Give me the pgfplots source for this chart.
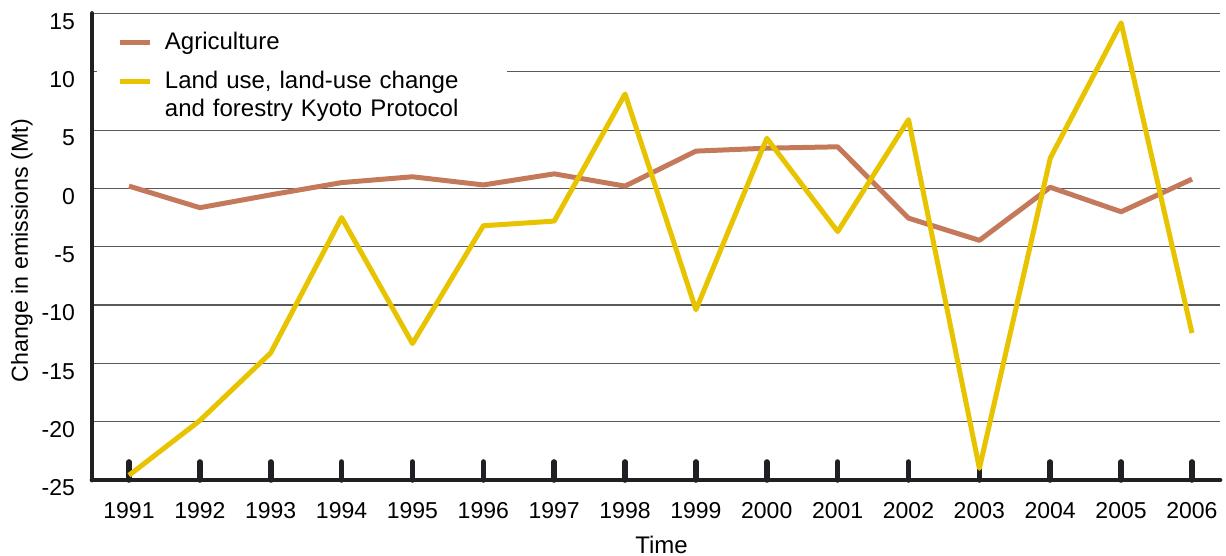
\documentclass[border=0pt]{standalone}
\usepackage{fontspec}
\setmainfont{Liberation Sans}
\usepackage{pgfplots}
\pgfplotsset{compat=1.18}

\definecolor{agri}{RGB}{196,122,90}
\definecolor{luc}{RGB}{232,196,0}
\definecolor{axblk}{RGB}{32,32,36}

\begin{document}
\begin{tikzpicture}
% 1px of the reference = 0.5pt
\useasboundingbox (-46pt,-38pt) rectangle (567pt,240pt);
\begin{axis}[
   scale only axis,
   width=564pt, height=233.25pt,
   xmin=1990.478, xmax=2006.395,
   ymin=-25, ymax=15,
   axis x line*=bottom,
   axis y line*=left,
   axis line style={line width=2.4pt, color=axblk, line cap=round, -},
   xtick={1991,...,2006},
   ytick={-25,-20,...,15},
   tick align=inside,
   major tick length=9pt,
   xtick style={line width=2.8pt, color=axblk, line cap=round},
   ytick style={draw=none},
   ymajorgrids,
   major grid style={line width=0.6pt, color=black!65},
   /pgf/number format/assume math mode=true,
   /pgf/number format/1000 sep={},
   xticklabel style={font=\fontsize{11.5}{13}\selectfont, yshift=-7.5pt},
   yticklabel style={font=\fontsize{11.5}{13}\selectfont, xshift=-5pt, yshift=-4pt},
   legend image code/.code={%
      \path (-7.5pt,0pt) (19pt,0pt);
      \draw[#1] (0pt,0pt) -- (15pt,0pt);},
   legend style={
      at={(axis description cs:0.004,0.99)},
      anchor=north west,
      draw=none, fill=white,
      font=\fontsize{12}{14}\selectfont,
      inner xsep=3pt, inner ysep=5pt,
      row sep=5pt,
      cells={anchor=west, align=left},
      /tikz/every even column/.append style={text width=166pt},
   },
]
% Agriculture
\addplot[agri, line width=2.5pt, line join=round] coordinates {
   (1991,0.2) (1992,-1.65) (1993,-0.55) (1994,0.5)
   (1995,1.0) (1996,0.3) (1997,1.25) (1998,0.2)
   (1999,3.2) (2000,3.45) (2001,3.57) (2002,-2.55)
   (2003,-4.45) (2004,0.1) (2005,-2.0) (2006,0.8)
};
\addlegendentry{Agriculture}
% Land use, land-use change and forestry
\addplot[luc, line width=2.5pt, line join=round] coordinates {
   (1991,-24.6) (1992,-19.9) (1993,-14.1) (1994,-2.5)
   (1995,-13.3) (1996,-3.2) (1997,-2.8) (1998,8.1)
   (1999,-10.4) (2000,4.3) (2001,-3.7) (2002,5.9)
   (2003,-24.0) (2004,2.6) (2005,14.2) (2006,-12.4)
};
\addlegendentry{Land use, land-use change\\and forestry Kyoto Protocol}
\end{axis}
\node[font=\fontsize{12}{14}\selectfont] at (284.75pt,-32.5pt) {Time};
\node[rotate=90, font=\fontsize{11.6}{13}\selectfont] at (-35pt,114.75pt) {Change in emissions (Mt)};
\end{tikzpicture}
\end{document}
